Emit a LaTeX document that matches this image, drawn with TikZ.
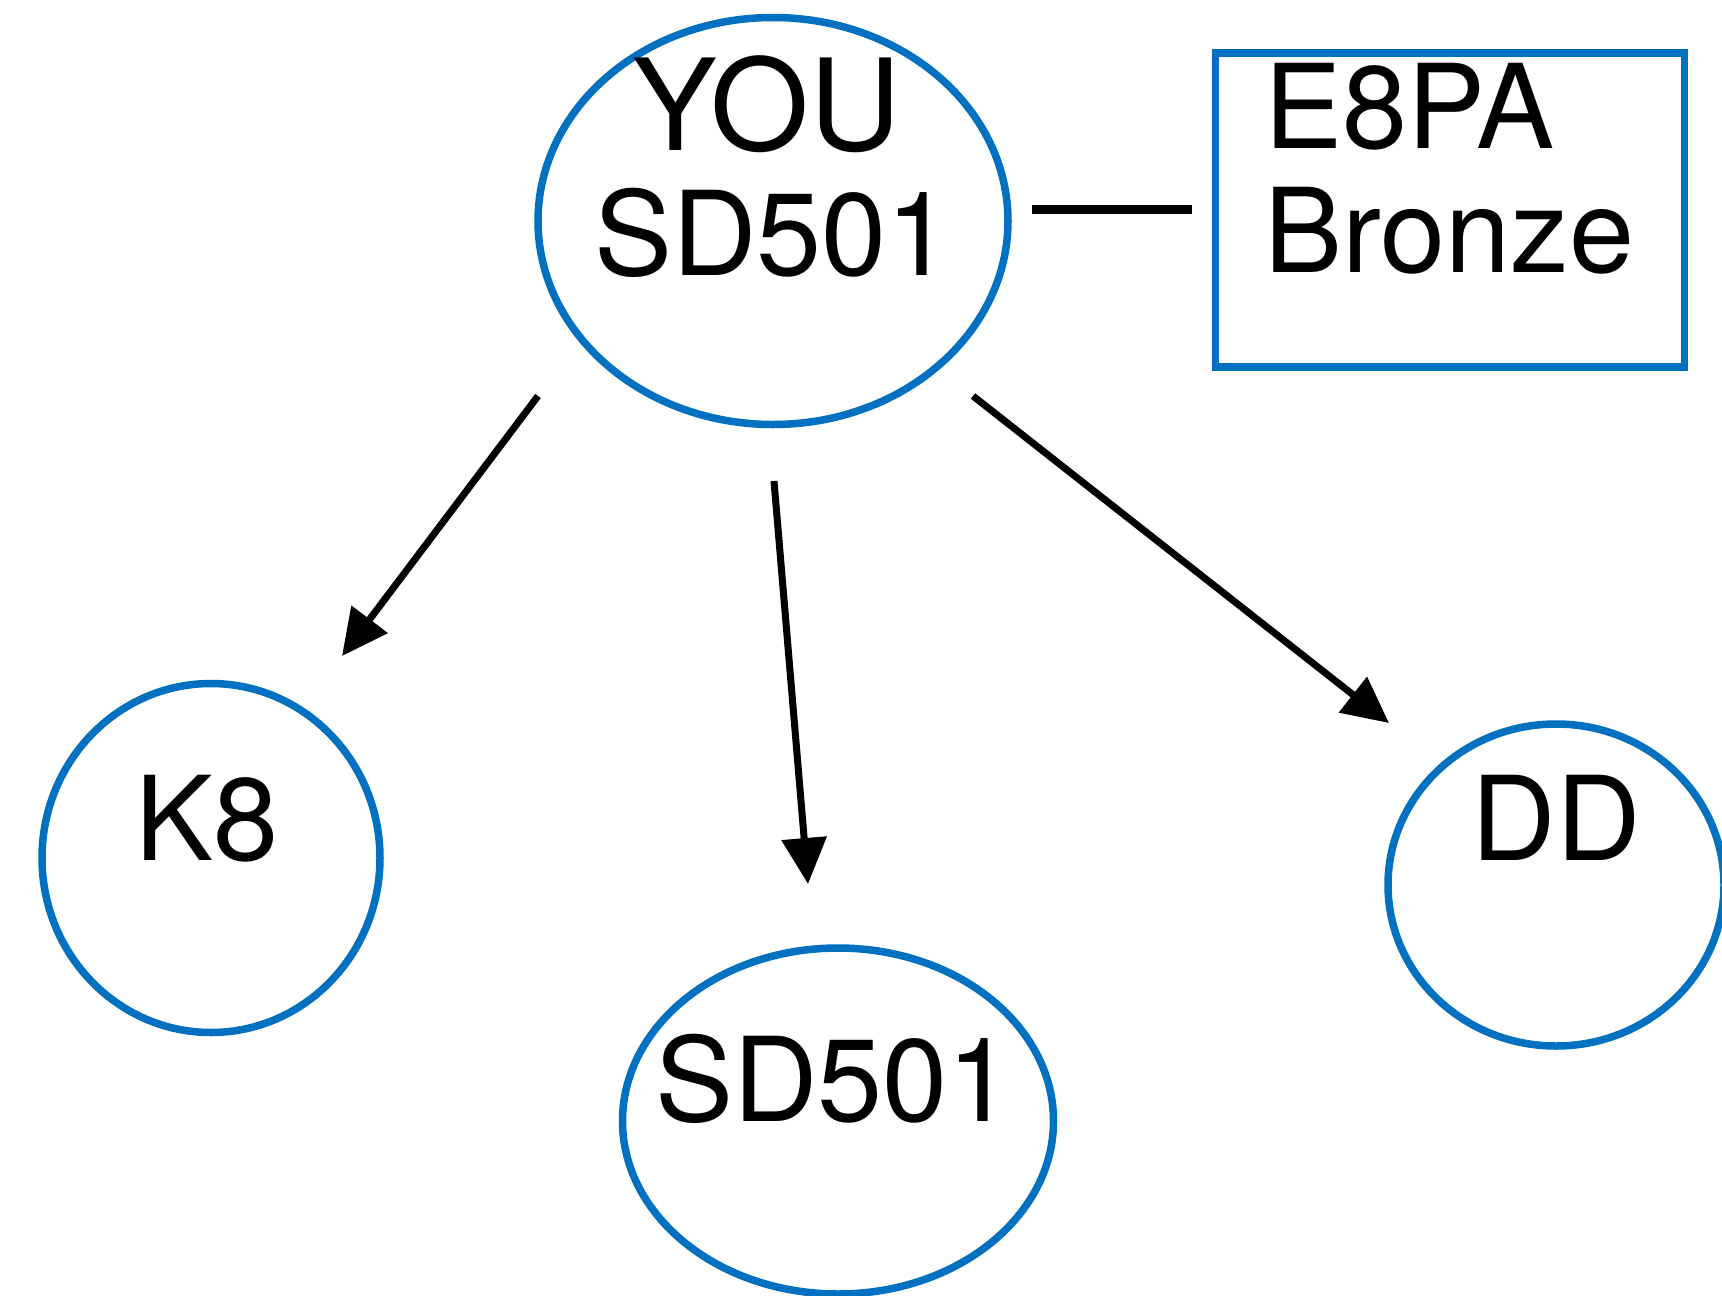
\documentclass[tikz,border=0pt]{standalone}
\usepackage{fontspec}
\setmainfont{TeX Gyre Heros}
\usetikzlibrary{arrows.meta,shapes.geometric}
\definecolor{nodeblue}{RGB}{0,112,192}
\begin{document}
\begin{tikzpicture}[x=1pt,y=-1pt,
  ell/.style={shape=ellipse, draw=nodeblue, line width=7.5pt, inner sep=0pt},
  boxnode/.style={shape=rectangle, draw=nodeblue, line width=7.5pt, inner sep=0pt},
  lbl/.style={font=\fontsize{117}{124}\selectfont, inner sep=0pt},
  biglbl/.style={font=\fontsize{127}{130}\selectfont, inner sep=0pt},
  conn/.style={line width=7pt, -{Triangle[length=46pt,width=44pt]}},
  plainline/.style={line width=9pt}
]
\useasboundingbox (0,0) rectangle (1722,1296);
% shapes
\node[ell, minimum width=470, minimum height=407] (you) at (773,221) {};
\node[ell, minimum width=338, minimum height=349] (k8) at (211,858) {};
\node[ell, minimum width=431, minimum height=346] (sd) at (838,1121) {};
\node[ell, minimum width=336, minimum height=322] (dd) at (1556,885) {};
\node[boxnode, minimum width=469, minimum height=314] (box) at (1450,210) {};
% labels
\node[biglbl, anchor=base] (youA) at (767,150) {YOU};
\node[lbl, anchor=base] (youB) at (773,275) {SD501};
\node[lbl, anchor=base west] (boxA) at (1264,148) {E8PA};
\node[lbl, anchor=base west] (boxB) at (1264,272) {Bronze};
\node[lbl, anchor=base] (k8t) at (207,860) {K8};
\node[lbl, anchor=base] (ddt) at (1556,860) {DD};
\node[lbl, anchor=base] (sdt) at (834,1121.5) {SD501};
% connector end points
\coordinate (a1s) at (538,396);
\coordinate (a1e) at (342,656);
\coordinate (a2s) at (774,481);
\coordinate (a2e) at (808,884);
\coordinate (a3s) at (973,396);
\coordinate (a3e) at (1389,723);
\coordinate (ls) at (1032,209.5);
\coordinate (le) at (1192,209.5);
\draw[conn] (a1s) -- (a1e);
\draw[conn] (a2s) -- (a2e);
\draw[conn] (a3s) -- (a3e);
\draw[plainline] (ls) -- (le);
\end{tikzpicture}
\end{document}
